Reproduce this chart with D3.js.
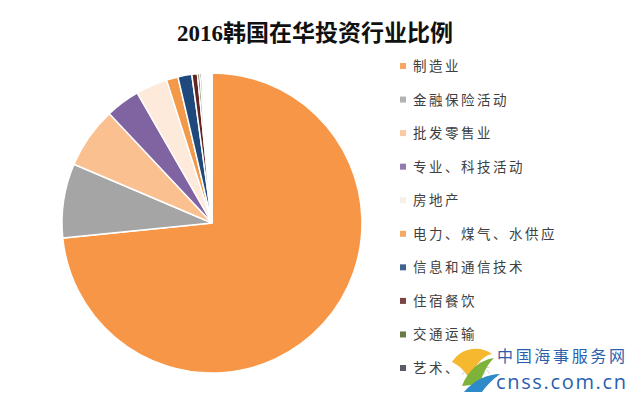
<!DOCTYPE html>
<html>
<head>
  <meta charset="utf-8">
  <title>2016韩国在华投资行业比例</title>
  <script src="https://d3js.org/d3.v7.min.js"></script>
  <style>
    body, html {
      margin: 0;
      padding: 0;
      background: #fff;
      overflow: hidden;
    }
    .title {
      font-family: "Liberation Serif", "Noto Sans CJK SC", serif;
      font-size: 23px;
      font-weight: bold;
      fill: #111;
    }
    .legend-label {
      font-family: "Noto Sans CJK SC", sans-serif;
      font-size: 13.5px;
      letter-spacing: 2.5px;
      fill: #404040;
    }
  </style>
</head>
<body>
  <div id="chart"></div>

  <script>
    // Industries (clockwise from 12 o'clock) and their shares, in %
    const categories = ["制造业", "金融保险活动", "批发零售业", "专业、科技活动", "房地产",
      "电力、煤气、水供应", "信息和通信技术", "住宿餐饮", "交通运输", "艺术、娱乐", "其他"];
    const shares = [73.4, 8.0, 6.6, 3.7, 3.4, 1.25, 1.5, 0.6, 0.25, 0.2, 1.1];
    const colors = ["#F79646", "#A5A5A5", "#FAC090", "#8064A2", "#FDEADA",
      "#F29A4A", "#1F497D", "#632523", "#4F6228", "#3F3F4F", "#FFFFFF"];

    const width = 640;
    const height = 395;

    const svg = d3.select("#chart")
      .append("svg")
      .attr("width", width)
      .attr("height", height);

    // Title
    svg.append("text")
      .attr("class", "title")
      .attr("x", 315)
      .attr("y", 41)
      .attr("text-anchor", "middle")
      .text("2016韩国在华投资行业比例");

    // Pie
    const data = categories.map((c, i) => ({ name: c, value: shares[i], color: colors[i] }));

    const pie = d3.pie()
      .sort(null)
      .value(d => d.value);

    const arc = d3.arc()
      .innerRadius(0)
      .outerRadius(150);

    svg.append("g")
      .attr("transform", "translate(212,223)")
      .selectAll("path")
      .data(pie(data))
      .join("path")
      .attr("d", arc)
      .attr("fill", d => d.data.color)
      .attr("stroke", "#fff")
      .attr("stroke-width", 1.5);

    // Legend (only the first ten fit in the picture)
    const legendY = d3.scaleLinear()
      .domain([0, 9])
      .range([66, 368]);

    const legend = svg.append("g")
      .selectAll("g")
      .data(data.slice(0, 10))
      .join("g")
      .attr("transform", (d, i) => `translate(400,${legendY(i)})`);

    legend.append("rect")
      .attr("x", 0)
      .attr("y", -3)
      .attr("width", 6)
      .attr("height", 6)
      .attr("fill", d => d.color === "#FDEADA" ? "#F6EDE4" : d.color)
      .attr("opacity", 0.85);

    legend.append("text")
      .attr("class", "legend-label")
      .attr("x", 13)
      .attr("y", 5)
      .text(d => d.name);

    // Watermark of the source site
    const wm = svg.append("g");

    wm.append("rect")
      .attr("x", 452)
      .attr("y", 346)
      .attr("width", 180)
      .attr("height", 46)
      .attr("fill", "#fff")
      .attr("opacity", 0.8);

    wm.append("path")
      .attr("d", "M452,362 C462,346 482,346 492,354 C482,356 474,366 470,380 C466,372 460,366 452,362 Z")
      .attr("fill", "#F5B82E");
    wm.append("path")
      .attr("d", "M462,386 C468,370 480,360 494,358 C486,366 482,376 480,384 Z")
      .attr("fill", "#7DB33A");
    wm.append("path")
      .attr("d", "M464,392 C474,380 488,374 500,374 C492,380 486,386 482,392 Z")
      .attr("fill", "#2E8BC9");

    wm.append("text")
      .attr("x", 497)
      .attr("y", 362)
      .attr("font-family", "Noto Sans CJK SC, sans-serif")
      .attr("font-size", 16)
      .attr("textLength", 128)
      .attr("fill", "#2B5FAE")
      .text("中国海事服务网");

    wm.append("text")
      .attr("x", 496)
      .attr("y", 389)
      .attr("font-family", "Open Sans, sans-serif")
      .attr("font-size", 20)
      .attr("textLength", 130)
      .attr("fill", "#2B5FAE")
      .text("cnss.com.cn");
  </script>
</body>
</html>
